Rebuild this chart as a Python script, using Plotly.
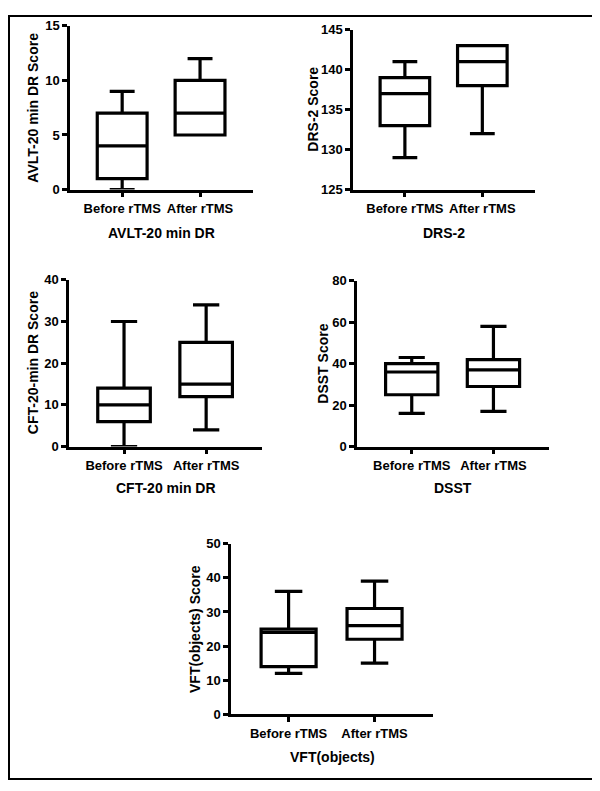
import plotly.graph_objects as go

# groups on the x axis
groups = ["Before rTMS", "After rTMS"]

# box stats: [min, q1, median, q3, max]
avlt_before = [0, 1, 4, 7, 9]
avlt_after = [5, 5, 7, 10, 12]
drs_before = [129, 133, 137, 139, 141]
drs_after = [132, 138, 141, 143, 143]
cft_before = [0, 6, 10, 14, 30]
cft_after = [4, 12, 15, 25, 34]
dsst_before = [16, 25, 36, 40, 43]
dsst_after = [17, 29, 37, 42, 58]
vft_before = [12, 14, 24, 25, 36]
vft_after = [15, 22, 26, 31, 39]

# titles
x_titles = ["AVLT-20 min DR", "DRS-2", "CFT-20 min DR", "DSST", "VFT(objects)"]
y_titles = ["AVLT-20 min DR Score", "DRS-2 Score", "CFT-20-min DR Score",
            "DSST Score", "VFT(objects) Score"]
y_ranges = [[0, 15], [125, 145], [0, 40], [0, 80], [0, 50]]
y_dticks = [5, 5, 10, 20, 10]

# the page body adds an 8px margin, so the figure is a bit smaller
OFF = 8
W, H = 600 - OFF, 791 - OFF
# plot area of each panel in window pixels: left, right, top, bottom
boxes_px = [
    (70, 253, 19, 186),
    (353, 535, 23, 186),
    (69, 262, 278, 448),
    (357, 549, 279, 448),
    (231, 433, 547, 721),
]
ytitle_gap = [37, 40, 36, 34, 36]
xtitle_gap = [44, 44, 42, 42, 44]

stats = [
    (avlt_before, avlt_after),
    (drs_before, drs_after),
    (cft_before, cft_after),
    (dsst_before, dsst_after),
    (vft_before, vft_after),
]


def px(x):
    return (x - OFF) / W


def py(y):
    return 1 - (y - OFF) / H


FONT = "Liberation Sans, Arial, sans-serif"
TICKFONT = dict(family=FONT, size=13, color="black")
fig = go.Figure()
annotations = []

for i, ((bef, aft), (l, r, t, b)) in enumerate(zip(stats, boxes_px)):
    n = "" if i == 0 else str(i + 1)
    cols = list(zip(bef, aft))
    fig.add_trace(go.Box(
        x=groups,
        lowerfence=list(cols[0]), q1=list(cols[1]), median=list(cols[2]),
        q3=list(cols[3]), upperfence=list(cols[4]),
        boxpoints=False,
        width=0.64,
        whiskerwidth=0.5,
        fillcolor="white",
        line=dict(color="black", width=3.2),
        showlegend=False,
        hoverinfo="skip",
        xaxis="x" + n, yaxis="y" + n,
    ))
    lo, hi = y_ranges[i]
    yticks = list(range(lo, hi + 1, y_dticks[i]))
    fig.update_layout(**{
        "xaxis" + n: dict(
            domain=[px(l), px(r)], anchor="y" + n, type="category",
            categoryorder="array", categoryarray=groups,
            range=[-0.67, 1.68],
            tickvals=groups, ticktext=["<b>%s</b>" % g for g in groups],
            showline=True, linecolor="black", linewidth=2.5,
            ticks="outside", ticklen=5, tickwidth=2.5, tickcolor="black",
            showgrid=False, zeroline=False, tickfont=TICKFONT,
        ),
        "yaxis" + n: dict(
            domain=[py(b), py(t)], anchor="x" + n, range=[lo, hi],
            tickvals=yticks, ticktext=["<b>%d</b>" % v for v in yticks],
            showline=True, linecolor="black", linewidth=2.5,
            ticks="outside", ticklen=5, tickwidth=2.5, tickcolor="black",
            showgrid=False, zeroline=False, tickfont=TICKFONT,
        ),
    })
    annotations.append(dict(
        text="<b>%s</b>" % x_titles[i], xref="paper", yref="paper",
        x=px((l + r) / 2), y=py(b + xtitle_gap[i]),
        xanchor="center", yanchor="middle", showarrow=False,
        font=dict(family=FONT, size=14, color="black"),
    ))
    annotations.append(dict(
        text="<b>%s</b>" % y_titles[i], xref="paper", yref="paper",
        x=px(l - ytitle_gap[i]), y=py((t + b) / 2), textangle=-90,
        xanchor="center", yanchor="middle", showarrow=False,
        font=dict(family=FONT, size=14, color="black"),
    ))

fig.update_layout(
    width=W, height=H,
    margin=dict(l=0, r=0, t=0, b=0),
    paper_bgcolor="white", plot_bgcolor="white",
    annotations=annotations,
    shapes=[dict(type="rect", xref="paper", yref="paper",
                 x0=px(9), x1=px(593), y0=py(787), y1=py(9),
                 line=dict(color="black", width=2))],
)

fig.write_html("out.html")
